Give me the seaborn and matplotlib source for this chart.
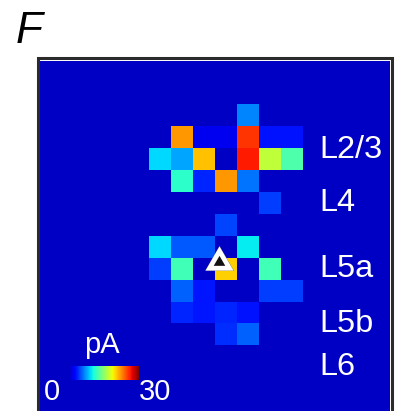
import numpy as np
import pandas as pd
import matplotlib
matplotlib.use("Agg")
import matplotlib.pyplot as plt
from matplotlib.colors import ListedColormap
from matplotlib.patches import Rectangle
import seaborn as sns

# ---------------- data ----------------
grid_n = 16
cell_rows = [2, 3, 3, 3, 3, 3, 3, 4, 4, 4, 4, 4, 4, 5, 5, 5, 5, 6, 7,
             8, 8, 8, 8, 9, 9, 9, 9, 10, 10, 10, 10, 11, 11, 11, 11, 12, 12]
cell_cols = [9, 6, 7, 8, 9, 10, 11, 5, 6, 7, 9, 10, 11, 6, 7, 8, 9, 10, 8,
             5, 6, 7, 9, 5, 6, 8, 10, 6, 7, 10, 11, 6, 7, 8, 9, 8, 9]
cell_pA = [6.3, 22.0, 1.3, 1.3, 25.2, 2.6, 2.6,
           8.9, 7.3, 20.6, 26.2, 16.6, 12.3,
           10.9, 3.3, 22.0, 5.8,
           4.0,
           4.3,
           8.9, 4.9, 4.9, 9.6,
           4.1, 11.8, 20.1, 11.8,
           5.2, 2.7, 4.0, 4.0,
           3.3, 2.7, 3.3, 2.6,
           3.6, 5.2]
soma_col, soma_row = 8.17, 9.19
layer_names = ["L2/3", "L4", "L5a", "L5b", "L6"]
cbar_min, cbar_max = 0, 30
cbar_unit = "pA"
panel_letter = "F"

# build the map
m = np.zeros((grid_n, grid_n))
for r, c, v in zip(cell_rows, cell_cols, cell_pA):
    m[r, c] = v
df = pd.DataFrame(m)

# ---------------- style ----------------
sns.set_theme(style="white")
plt.rcParams["font.family"] = ["Liberation Sans", "DejaVu Sans"]

jet = plt.get_cmap("jet")
cmap = ListedColormap(jet(np.linspace(0.06, 1.0, 256)))

W, H = 400, 411
fig = plt.figure(figsize=(W / 100, H / 100), dpi=100)
fig.patch.set_facecolor("white")

ax = fig.add_axes([40 / W, 0.0, 350.4 / W, 350.4 / H])
sns.heatmap(df, cmap=cmap, vmin=cbar_min, vmax=cbar_max, cbar=False,
            xticklabels=False, yticklabels=False, ax=ax)
ax.set_xlabel("")
ax.set_ylabel("")
for s in ax.spines.values():
    s.set_visible(False)

# soma marker (white triangle with black centre)
ax.plot([soma_col], [soma_row], marker=(3, 0, 0), ms=24.5, color="#555555",
        mew=0, ls="none", zorder=5, alpha=0.6)
ax.plot([soma_col], [soma_row], marker=(3, 0, 0), ms=23.3, color="white",
        mew=0, ls="none", zorder=5)
ax.plot([soma_col], [soma_row], marker=(3, 0, 0), ms=9.6, color="#111111",
        mew=0, ls="none", zorder=6)

# layer labels
label_y = [4.46, 6.86, 9.86, 12.40, 14.35]
for name, yy in zip(layer_names, label_y):
    ax.text(12.76, yy, name, color="white", fontsize=23.4, ha="left",
            va="baseline", zorder=7)

# frame
fig.patches.append(Rectangle((38 / W, 0 - 0.05), (391.5 - 38) / W,
                             (H - 58.5) / H + 0.05, transform=fig.transFigure,
                             fill=False, edgecolor="#2b2b2b", linewidth=2.2,
                             zorder=10))

# inline colour bar
cax = fig.add_axes([70 / W, 1 - 380 / H, 68.5 / W, 14 / H])
grad = np.linspace(cbar_min, cbar_max, 256)[None, :]
cax.imshow(grad, aspect="auto", cmap=cmap, vmin=cbar_min, vmax=cbar_max)
cax.axis("off")

fig.text(102 / W, 1 - 353.3 / H, cbar_unit, color="white", fontsize=21,
         ha="center", va="baseline", zorder=8)
fig.text(52 / W, 1 - 400 / H, str(cbar_min), color="white", fontsize=21,
         ha="center", va="baseline", zorder=8)
fig.text(155.5 / W, 1 - 400 / H, str(cbar_max), color="white", fontsize=21,
         ha="center", va="baseline", zorder=8)

# panel letter
fig.text(16 / W, 1 - 43.3 / H, panel_letter, fontsize=31.8, style="italic",
         color="black", ha="left", va="baseline")

fig.savefig("out.png", dpi=100)
